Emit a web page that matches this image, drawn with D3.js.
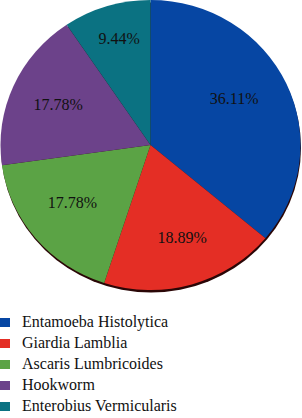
<!DOCTYPE html>
<html>
<head>
<meta charset="utf-8">
<script src="https://cdn.jsdelivr.net/npm/d3@7"></script>
</head>
<body style="margin:0">
<script>
// values
var categories = ["Entamoeba Histolytica", "Giardia Lamblia", "Ascaris Lumbricoides", "Hookworm", "Enterobius Vermicularis"];
var percents = [36.11, 18.89, 17.78, 17.78, 9.44];
var labels = ["36.11%", "18.89%", "17.78%", "17.78%", "9.44%"];
var colors = ["#0646a3", "#e42e25", "#5ba345", "#6c428a", "#0b7282"];

// small pixel nudges so the labels sit where the original put them
var labelNudge = [[-7, -6], [4, 0], [-1.5, -4.5], [-1, -1], [-2, -14]];

var fontName = "Liberation Serif";
var svgWidth = 302;
var svgHeight = 418;
var cx = 150.5, cy = 145;
var rx = 150, ry = 145;

var svg = d3.select("body")
  .append("svg")
  .attr("width", svgWidth)
  .attr("height", svgHeight);

var data = categories.map((c, i) => ({name: c, value: percents[i], label: labels[i], color: colors[i]}));

var pie = d3.pie().sort(null).value(d => d.value);
var arcs = pie(data);
var arc = d3.arc().innerRadius(0).outerRadius(rx);
var labelArc = d3.arc().innerRadius(100).outerRadius(100);

// dark rim under the pie
svg.append("ellipse")
  .attr("cx", cx + 0.5)
  .attr("cy", cy + 2.5)
  .attr("rx", rx)
  .attr("ry", ry)
  .attr("fill", "#2a0606");

var pieGroup = svg.append("g")
  .attr("transform", `translate(${cx}, ${cy}) scale(1, ${ry / rx})`);

pieGroup.selectAll("path")
  .data(arcs)
  .enter()
  .append("path")
  .attr("d", arc)
  .attr("fill", d => d.data.color);

// labels (not scaled)
svg.selectAll(".slice-label")
  .data(arcs)
  .enter()
  .append("text")
  .attr("class", "slice-label")
  .attr("x", (d, i) => cx + labelArc.centroid(d)[0] + labelNudge[i][0])
  .attr("y", (d, i) => cy + labelArc.centroid(d)[1] * ry / rx + labelNudge[i][1] + 5.5)
  .attr("text-anchor", "middle")
  .attr("font-family", fontName)
  .attr("font-size", 16)
  .attr("fill", "#111")
  .text(d => d.data.label);

// legend
var legend = svg.append("g")
  .attr("transform", "translate(0, 318)");

var rows = legend.selectAll(".legend-row")
  .data(data)
  .enter()
  .append("g")
  .attr("class", "legend-row")
  .attr("transform", (d, i) => `translate(0, ${i * 21})`);

rows.append("rect")
  .attr("x", 0)
  .attr("y", 0)
  .attr("width", 10)
  .attr("height", 9)
  .attr("fill", d => d.color);

rows.append("text")
  .attr("x", 22)
  .attr("y", 8.5)
  .attr("font-family", fontName)
  .attr("font-size", 16)
  .attr("fill", "#111")
  .text(d => d.name);
</script>
</body>
</html>
